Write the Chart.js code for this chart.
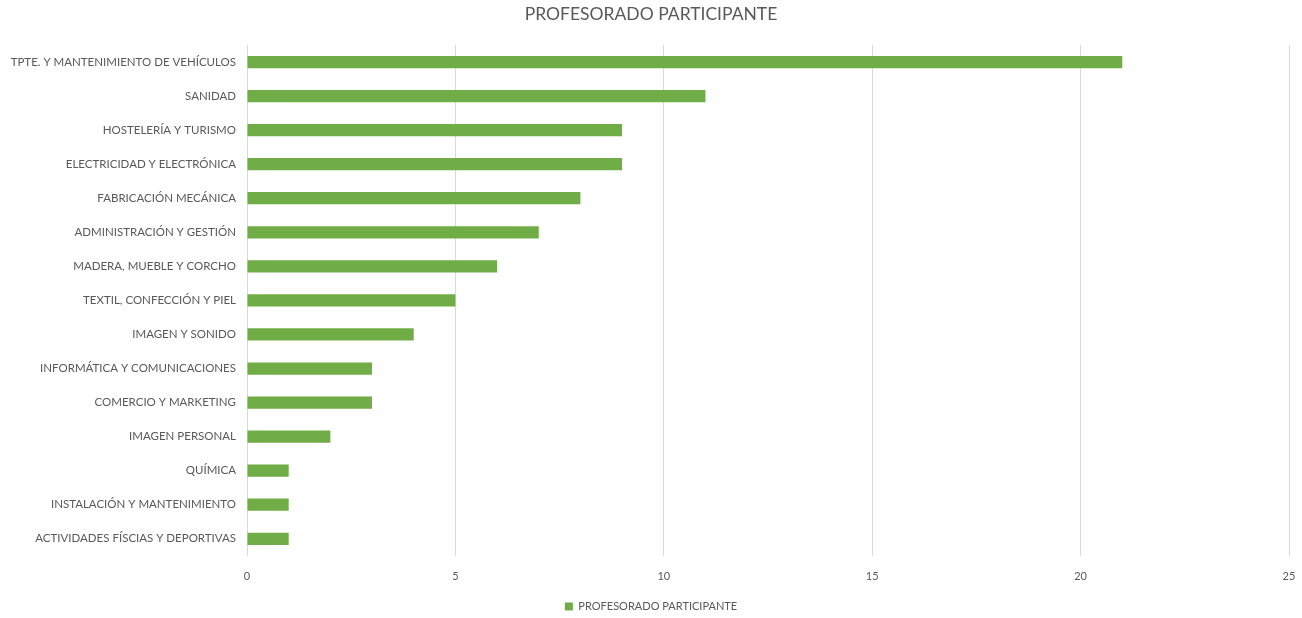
<!DOCTYPE html>
<html>
<head>
<meta charset="utf-8">
<script src="https://cdn.jsdelivr.net/npm/chart.js@4.4.0/dist/chart.umd.min.js"></script>
<style>
  html, body { margin: 0; padding: 0; background: #fff; }
  #wrap { width: 1302px; height: 618px; position: relative; }
</style>
</head>
<body>
<div id="wrap"><canvas id="profChart"></canvas></div>
<script>
const categories = [
    'TPTE. Y MANTENIMIENTO DE VEHÍCULOS',
    'SANIDAD',
    'HOSTELERÍA Y TURISMO',
    'ELECTRICIDAD Y ELECTRÓNICA',
    'FABRICACIÓN MECÁNICA',
    'ADMINISTRACIÓN Y GESTIÓN',
    'MADERA, MUEBLE Y CORCHO',
    'TEXTIL, CONFECCIÓN Y PIEL',
    'IMAGEN Y SONIDO',
    'INFORMÁTICA Y COMUNICACIONES',
    'COMERCIO Y MARKETING',
    'IMAGEN PERSONAL',
    'QUÍMICA',
    'INSTALACIÓN Y MANTENIMIENTO',
    'ACTIVIDADES FÍSCIAS Y DEPORTIVAS'
];
const profesorado = [21, 11, 9, 9, 8, 7, 6, 5, 4, 3, 3, 2, 1, 1, 1];
const xTicks = [0, 5, 10, 15, 20, 25];

const FONT = "Lato, 'Open Sans', sans-serif";
const GREY = '#595959';

document.addEventListener("DOMContentLoaded", () => {
    const ctx = document.getElementById('profChart').getContext('2d');

    new Chart(ctx, {
        type: 'bar',
        data: {
            labels: categories,
            datasets: [{
                label: 'PROFESORADO PARTICIPANTE',
                data: profesorado,
                backgroundColor: '#70AD47',
                borderWidth: 0,
                categoryPercentage: 1,
                barPercentage: 0.36
            }]
        },
        options: {
            indexAxis: 'y',
            responsive: true,
            maintainAspectRatio: false,
            animation: false,
            layout: { padding: { top: 4, right: 0, left: 0, bottom: -4 } },
            scales: {
                x: {
                    min: 0,
                    max: 25,
                    afterBuildTicks: (axis) => { axis.ticks = xTicks.map(v => ({ value: v })); },
                    afterFit: (axis) => { axis.paddingRight = 13; axis.height -= 1; },
                    grid: { color: '#d9d9d9', drawTicks: false },
                    border: { display: false },
                    ticks: { color: GREY, padding: 14, font: { size: 11, family: FONT } }
                },
                y: {
                    grid: { display: false },
                    border: { display: false },
                    afterFit: (axis) => { axis.width = 247; },
                    ticks: { color: GREY, padding: 3, font: { size: 11.5, family: FONT } }
                }
            },
            plugins: {
                title: {
                    display: true,
                    text: 'PROFESORADO PARTICIPANTE',
                    color: GREY,
                    font: { size: 17.5, weight: 'normal', family: FONT },
                    padding: { top: 0, bottom: 20 }
                },
                legend: {
                    position: 'bottom',
                    labels: {
                        color: GREY,
                        boxWidth: 8,
                        boxHeight: 8,
                        padding: 5,
                        font: { size: 11, family: FONT }
                    }
                },
                tooltip: { enabled: false }
            }
        }
    });
});
</script>
</body>
</html>
